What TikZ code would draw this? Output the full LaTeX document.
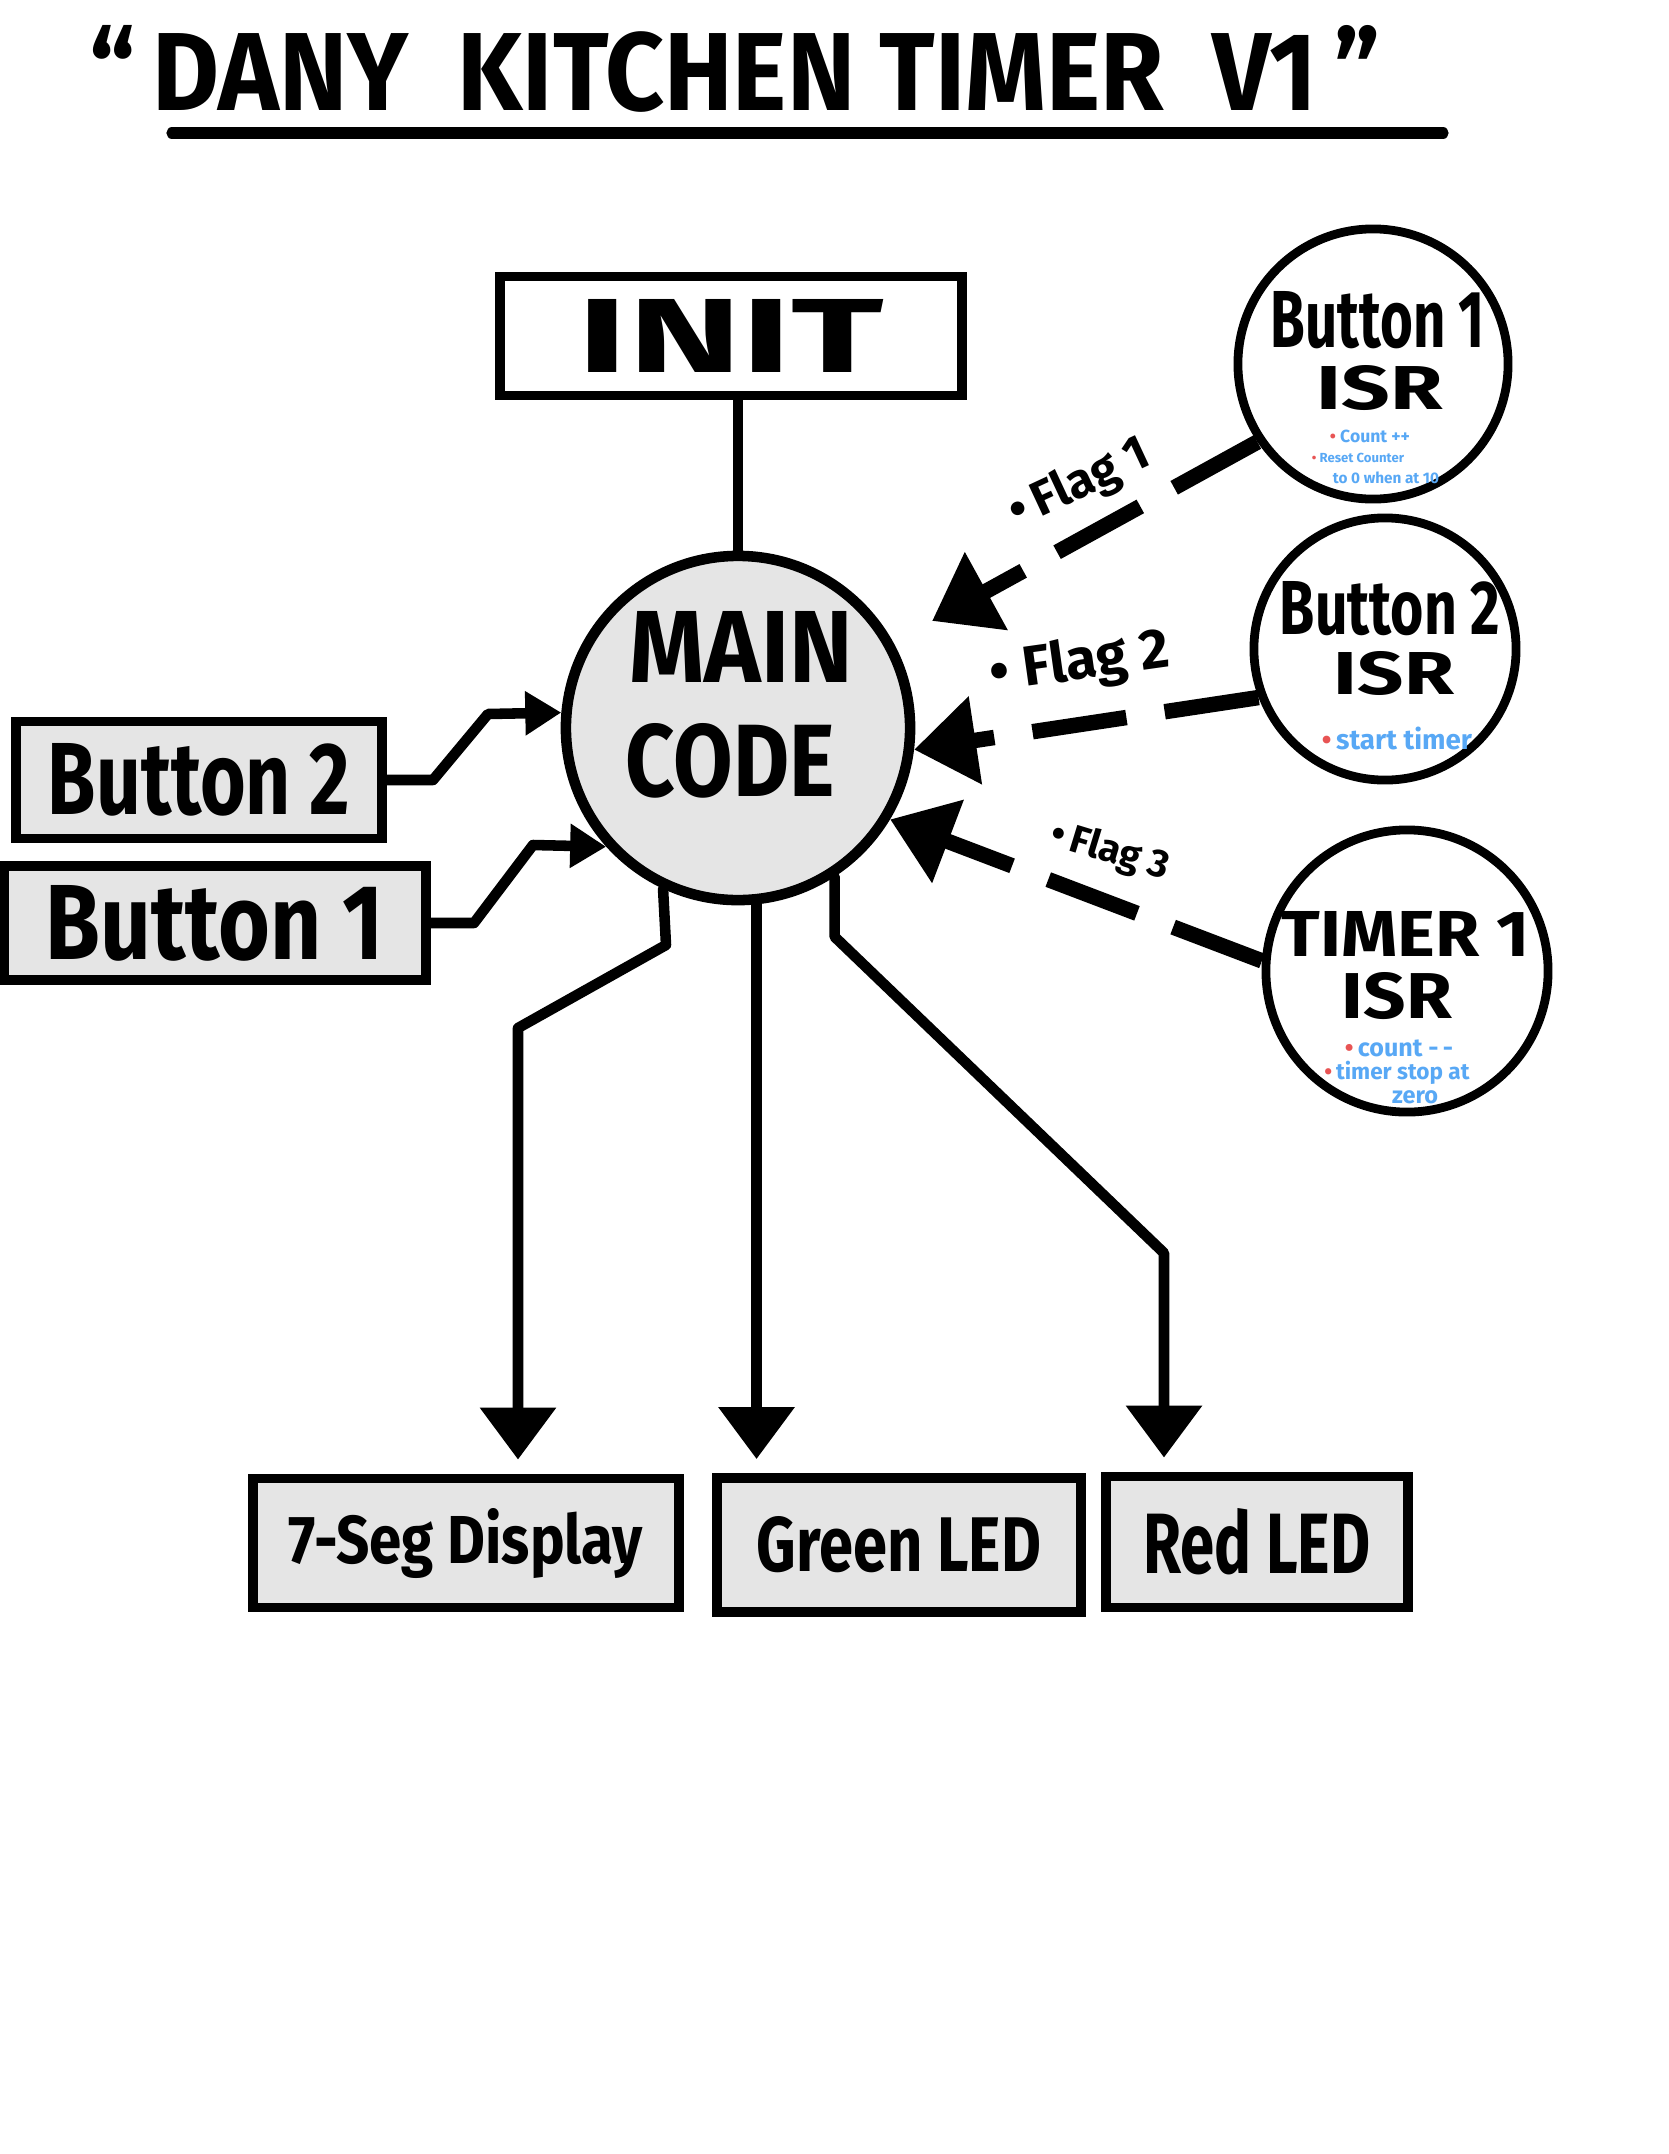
\documentclass[tikz,border=0pt]{standalone}
\usepackage{fontspec}
\setmainfont{Fira Sans}
\usepackage{graphicx}
\usetikzlibrary{arrows.meta,calc}
\definecolor{boxgray}{RGB}{229,229,229}
\definecolor{noteblue}{RGB}{88,168,245}
\definecolor{notered}{RGB}{232,84,84}
\newcommand\hw[3]{\resizebox{#1cm}{#2cm}{\bfseries #3}}
\newcommand\nt[2]{\resizebox{#1cm}{!}{\bfseries #2}}
\newcommand\rb{{\color{notered}\textbullet}}
\begin{document}
\begin{tikzpicture}[x=0.01cm,y=-0.01cm,
 box/.style={draw,line width=2.8pt,inner sep=0pt},
 graybox/.style={box,fill=boxgray},
 isr/.style={circle,draw,line width=2.5pt,inner sep=0pt},
 txt/.style={inner sep=0pt},
 conn/.style={line width=3pt,line join=round,line cap=round},
 outarrow/.style={conn,-{Triangle[width=0.74cm,length=0.52cm]},shorten >=0.14cm},
 inarrow/.style={conn,-{Triangle[width=0.42cm,length=0.36cm]}},
 flag/.style={line width=4.4pt,dash pattern=on 27pt off 11pt,-{Triangle[width=0.85cm,length=0.62cm]}},
 note/.style={inner sep=0pt,text=noteblue},
]
\fill[white] (0,0) rectangle (1668,2154);
\path[use as bounding box] (0,0) rectangle (1668,2154);

% title
\node[txt] (title) at (735,69) {\hw{12.9}{0.85}{“\,DANY\ \ KITCHEN TIMER\ \ V1\,”}};
\draw[line width=3.2pt,line cap=round] (172,133) -- (1443,133);

% main blocks
\node[box,minimum width=4.61cm,minimum height=1.19cm] (init) at (731,336) {\hw{3.06}{0.73}{INIT}};
\node[isr,fill=boxgray,minimum size=3.44cm,line width=3pt] (main) at (738,728) {};
\node[txt] (mainA) at (741,647) {\hw{2.23}{0.71}{MAIN}};
\node[txt] (mainB) at (730,761) {\hw{2.09}{0.73}{CODE}};

\node[graybox,minimum width=3.66cm,minimum height=1.17cm] (btn2) at (199,780) {\hw{3.02}{0.71}{Button 2}};
\node[graybox,minimum width=4.22cm,minimum height=1.14cm] (btn1) at (215,923) {\hw{3.38}{0.74}{Button 1}};

\node[graybox,minimum width=4.26cm,minimum height=1.29cm] (seg) at (466,1543) {\hw{3.54}{0.55}{7-Seg Display}};
\node[graybox,minimum width=3.64cm,minimum height=1.34cm] (green) at (899,1545) {\hw{2.84}{0.55}{Green LED}};
\node[graybox,minimum width=3.02cm,minimum height=1.31cm] (red) at (1257,1542) {\hw{2.27}{0.65}{Red LED}};

% ISRs
\node[isr,minimum size=2.7cm] (isr1) at (1373,364) {};
\node[txt] (isr1a) at (1378,320) {\hw{2.14}{0.56}{Button 1}};
\node[txt] (isr1b) at (1380,388) {\hw{1.26}{0.44}{ISR}};
\node[note] (n1) at (1370,436) {\nt{0.8}{\rb\ Count ++}};
\node[note] (n2) at (1358,458) {\nt{0.92}{\rb\ Reset Counter}};
\node[note] (n3) at (1386,478) {\nt{1.06}{to 0 when at 10}};

\node[isr,minimum size=2.62cm] (isr2) at (1385,649) {};
\node[txt] (isr2a) at (1390,609) {\hw{2.2}{0.53}{Button 2}};
\node[txt] (isr2b) at (1394,673) {\hw{1.2}{0.43}{ISR}};
\node[note] (n4) at (1397,738) {\nt{1.5}{\rb\,start timer}};

\node[isr,minimum size=2.82cm] (tmr) at (1407,971) {};
\node[txt] (tmra) at (1406,934) {\hw{2.48}{0.45}{TIMER 1}};
\node[txt] (tmrb) at (1397,996) {\hw{1.1}{0.46}{ISR}};
\node[note] (n5) at (1399,1048) {\nt{1.08}{\rb\,count -\,-}};
\node[note] (n6) at (1397,1073) {\nt{1.45}{\rb\,timer stop at}};
\node[note] (n7) at (1415,1097) {\nt{0.46}{zero}};

% flag labels
\node[txt,rotate=25] (f1) at (1080,484) {\nt{1.5}{\textbullet\,Flag 1}};
\node[txt,rotate=8] (f2) at (1080,664) {\nt{1.8}{\textbullet\ Flag 2}};
\node[txt,rotate=-17] (f3) at (1110,852) {\nt{1.22}{\textbullet\,Flag 3}};

% connectors
\draw[conn] (main.north |- init.south) -- (main.north);
\draw[inarrow] (btn2.east) -- (433,780) -- (488,714) -- (main.175);
\draw[inarrow] (btn1.east) -- (474,923) -- (533,845) -- (main.222);

\coordinate (c7) at (518,1028);
\draw[outarrow] (main.245) -- (666,945) -- (c7) -- (c7 |- seg.north);
\draw[outarrow] (main.276) -- (main.276 |- green.north);
\coordinate (cr) at (1164,1253);
\draw[outarrow] (main.303) -- ++(0,60) -- (cr) -- (cr |- red.north);

\coordinate (f1end) at (932,621);
\draw[flag] (isr1.214) -- (f1end);
\draw[flag] (isr2.201) -- (main.-7);
\draw[flag] (tmr.176) -- (main.-31);
\end{tikzpicture}
\end{document}
